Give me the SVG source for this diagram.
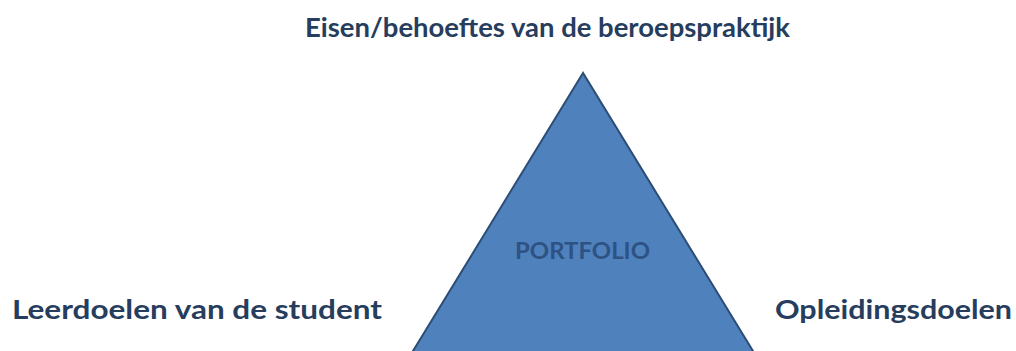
<svg xmlns="http://www.w3.org/2000/svg" width="1016" height="351" viewBox="0 0 1016 351">
<style>
.lbl{font-family:Lato,"Open Sans","Liberation Sans",sans-serif;font-weight:700;font-size:26px;fill:#263d5e}
.tri{fill:#4f81bd;stroke:#2c4d75;stroke-width:2}
.inner{font-family:Lato,"Open Sans","Liberation Sans",sans-serif;font-weight:700;font-size:22px;fill:#2d5283}
</style>
<rect width="1016" height="351" fill="#ffffff"/>
<g id="portfolio">
<polygon class="tri" points="583,73 407.5,360 758.5,360"/>
<text class="inner" x="515" y="259" textLength="135" lengthAdjust="spacingAndGlyphs">PORTFOLIO</text>
</g>
<g id="top">
<text class="lbl" x="305" y="37" textLength="485" lengthAdjust="spacingAndGlyphs">Eisen/behoeftes van de beroepspraktijk</text>
</g>
<g id="left">
<text class="lbl" x="12" y="319" textLength="370" lengthAdjust="spacingAndGlyphs">Leerdoelen van de student</text>
</g>
<g id="right">
<text class="lbl" x="775" y="319" textLength="237" lengthAdjust="spacingAndGlyphs">Opleidingsdoelen</text>
</g>
<g id="connectors"></g>
</svg>
